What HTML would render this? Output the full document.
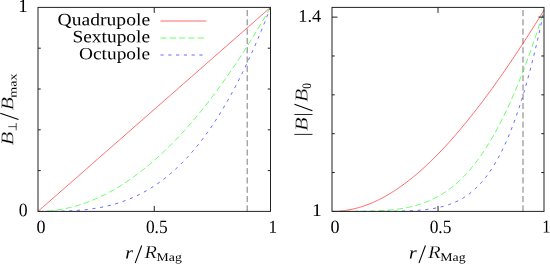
<!DOCTYPE html>
<html><head><meta charset="utf-8"><title>Multipole field profiles</title>
<style>
html,body{margin:0;padding:0;background:#fff;}
body{width:550px;height:264px;overflow:hidden;font-family:"Liberation Serif",serif;}
svg{display:block;will-change:transform;}
</style></head><body>
<svg width="550" height="264" viewBox="0 0 550 264"><g stroke-linecap="butt"><line x1="247.18" y1="211.40" x2="247.18" y2="7.40" stroke="#000" stroke-width="0.52" stroke-dasharray="6.1 3.2"/><polyline points="38.00,211.40 39.16,210.38 40.33,209.36 41.49,208.34 42.65,207.32 43.81,206.30 44.98,205.28 46.14,204.26 47.30,203.24 48.46,202.22 49.62,201.20 50.79,200.18 51.95,199.16 53.11,198.14 54.28,197.12 55.44,196.10 56.60,195.08 57.76,194.06 58.92,193.04 60.09,192.02 61.25,191.00 62.41,189.98 63.58,188.96 64.74,187.94 65.90,186.92 67.06,185.90 68.22,184.88 69.39,183.86 70.55,182.84 71.71,181.82 72.88,180.80 74.04,179.78 75.20,178.76 76.36,177.74 77.53,176.72 78.69,175.70 79.85,174.68 81.01,173.66 82.17,172.64 83.34,171.62 84.50,170.60 85.66,169.58 86.82,168.56 87.99,167.54 89.15,166.52 90.31,165.50 91.47,164.48 92.64,163.46 93.80,162.44 94.96,161.42 96.12,160.40 97.29,159.38 98.45,158.36 99.61,157.34 100.78,156.32 101.94,155.30 103.10,154.28 104.26,153.26 105.42,152.24 106.59,151.22 107.75,150.20 108.91,149.18 110.08,148.16 111.24,147.14 112.40,146.12 113.56,145.10 114.73,144.08 115.89,143.06 117.05,142.04 118.21,141.02 119.38,140.00 120.54,138.98 121.70,137.96 122.86,136.94 124.03,135.92 125.19,134.90 126.35,133.88 127.51,132.86 128.68,131.84 129.84,130.82 131.00,129.80 132.16,128.78 133.32,127.76 134.49,126.74 135.65,125.72 136.81,124.70 137.97,123.68 139.14,122.66 140.30,121.64 141.46,120.62 142.62,119.60 143.79,118.58 144.95,117.56 146.11,116.54 147.27,115.52 148.44,114.50 149.60,113.48 150.76,112.46 151.93,111.44 153.09,110.42 154.25,109.40 155.41,108.38 156.57,107.36 157.74,106.34 158.90,105.32 160.06,104.30 161.23,103.28 162.39,102.26 163.55,101.24 164.71,100.22 165.88,99.20 167.04,98.18 168.20,97.16 169.36,96.14 170.52,95.12 171.69,94.10 172.85,93.08 174.01,92.06 175.17,91.04 176.34,90.02 177.50,89.00 178.66,87.98 179.82,86.96 180.99,85.94 182.15,84.92 183.31,83.90 184.47,82.88 185.64,81.86 186.80,80.84 187.96,79.82 189.12,78.80 190.29,77.78 191.45,76.76 192.61,75.74 193.78,74.72 194.94,73.70 196.10,72.68 197.26,71.66 198.42,70.64 199.59,69.62 200.75,68.60 201.91,67.58 203.07,66.56 204.24,65.54 205.40,64.52 206.56,63.50 207.72,62.48 208.89,61.46 210.05,60.44 211.21,59.42 212.38,58.40 213.54,57.38 214.70,56.36 215.86,55.34 217.03,54.32 218.19,53.30 219.35,52.28 220.51,51.26 221.68,50.24 222.84,49.22 224.00,48.20 225.16,47.18 226.33,46.16 227.49,45.14 228.65,44.12 229.81,43.10 230.97,42.08 232.14,41.06 233.30,40.04 234.46,39.02 235.62,38.00 236.79,36.98 237.95,35.96 239.11,34.94 240.28,33.92 241.44,32.90 242.60,31.88 243.76,30.86 244.93,29.84 246.09,28.82 247.25,27.80 248.41,26.78 249.58,25.76 250.74,24.74 251.90,23.72 253.06,22.70 254.23,21.68 255.39,20.66 256.55,19.64 257.71,18.62 258.88,17.60 260.04,16.58 261.20,15.56 262.36,14.54 263.52,13.52 264.69,12.50 265.85,11.48 267.01,10.46 268.18,9.44 269.34,8.42 270.50,7.40" fill="none" stroke="#ff0000" stroke-width="0.60"/><polyline points="38.00,211.40 39.16,211.39 40.33,211.38 41.49,211.35 42.65,211.32 43.81,211.27 44.98,211.22 46.14,211.15 47.30,211.07 48.46,210.99 49.62,210.89 50.79,210.78 51.95,210.67 53.11,210.54 54.28,210.40 55.44,210.25 56.60,210.09 57.76,209.93 58.92,209.75 60.09,209.56 61.25,209.36 62.41,209.15 63.58,208.93 64.74,208.70 65.90,208.46 67.06,208.21 68.22,207.95 69.39,207.68 70.55,207.40 71.71,207.11 72.88,206.81 74.04,206.50 75.20,206.18 76.36,205.85 77.53,205.50 78.69,205.15 79.85,204.79 81.01,204.42 82.17,204.04 83.34,203.64 84.50,203.24 85.66,202.83 86.82,202.40 87.99,201.97 89.15,201.53 90.31,201.07 91.47,200.61 92.64,200.13 93.80,199.65 94.96,199.15 96.12,198.65 97.29,198.13 98.45,197.61 99.61,197.07 100.78,196.53 101.94,195.97 103.10,195.41 104.26,194.83 105.42,194.24 106.59,193.65 107.75,193.04 108.91,192.42 110.08,191.80 111.24,191.16 112.40,190.51 113.56,189.85 114.73,189.18 115.89,188.51 117.05,187.82 118.21,187.12 119.38,186.41 120.54,185.69 121.70,184.96 122.86,184.22 124.03,183.47 125.19,182.71 126.35,181.94 127.51,181.16 128.68,180.37 129.84,179.57 131.00,178.76 132.16,177.94 133.32,177.11 134.49,176.27 135.65,175.41 136.81,174.55 137.97,173.68 139.14,172.80 140.30,171.91 141.46,171.00 142.62,170.09 143.79,169.17 144.95,168.23 146.11,167.29 147.27,166.34 148.44,165.37 149.60,164.40 150.76,163.41 151.93,162.42 153.09,161.41 154.25,160.40 155.41,159.37 156.57,158.34 157.74,157.29 158.90,156.24 160.06,155.17 161.23,154.10 162.39,153.01 163.55,151.91 164.71,150.81 165.88,149.69 167.04,148.56 168.20,147.43 169.36,146.28 170.52,145.12 171.69,143.95 172.85,142.77 174.01,141.59 175.17,140.39 176.34,139.18 177.50,137.96 178.66,136.73 179.82,135.49 180.99,134.24 182.15,132.98 183.31,131.71 184.47,130.43 185.64,129.14 186.80,127.84 187.96,126.53 189.12,125.21 190.29,123.88 191.45,122.54 192.61,121.19 193.78,119.82 194.94,118.45 196.10,117.07 197.26,115.68 198.42,114.28 199.59,112.86 200.75,111.44 201.91,110.01 203.07,108.56 204.24,107.11 205.40,105.65 206.56,104.17 207.72,102.69 208.89,101.19 210.05,99.69 211.21,98.17 212.38,96.65 213.54,95.11 214.70,93.57 215.86,92.01 217.03,90.45 218.19,88.87 219.35,87.29 220.51,85.69 221.68,84.08 222.84,82.47 224.00,80.84 225.16,79.20 226.33,77.56 227.49,75.90 228.65,74.23 229.81,72.55 230.97,70.86 232.14,69.17 233.30,67.46 234.46,65.74 235.62,64.01 236.79,62.27 237.95,60.52 239.11,58.76 240.28,56.99 241.44,55.21 242.60,53.42 243.76,51.62 244.93,49.81 246.09,47.99 247.25,46.16 248.41,44.32 249.58,42.47 250.74,40.61 251.90,38.73 253.06,36.85 254.23,34.96 255.39,33.06 256.55,31.15 257.71,29.22 258.88,27.29 260.04,25.35 261.20,23.39 262.36,21.43 263.52,19.46 264.69,17.47 265.85,15.48 267.01,13.47 268.18,11.46 269.34,9.43 270.50,7.40" fill="none" stroke="#00ff00" stroke-width="0.60" stroke-dasharray="6.1 3.2"/><polyline points="38.00,211.40 39.16,211.40 40.33,211.40 41.49,211.40 42.65,211.40 43.81,211.40 44.98,211.39 46.14,211.39 47.30,211.39 48.46,211.38 49.62,211.37 50.79,211.37 51.95,211.36 53.11,211.34 54.28,211.33 55.44,211.31 56.60,211.30 57.76,211.27 58.92,211.25 60.09,211.23 61.25,211.20 62.41,211.16 63.58,211.13 64.74,211.09 65.90,211.05 67.06,211.00 68.22,210.95 69.39,210.90 70.55,210.84 71.71,210.78 72.88,210.71 74.04,210.64 75.20,210.56 76.36,210.48 77.53,210.40 78.69,210.31 79.85,210.21 81.01,210.11 82.17,210.00 83.34,209.89 84.50,209.77 85.66,209.64 86.82,209.51 87.99,209.37 89.15,209.23 90.31,209.08 91.47,208.92 92.64,208.75 93.80,208.58 94.96,208.40 96.12,208.21 97.29,208.02 98.45,207.81 99.61,207.60 100.78,207.38 101.94,207.16 103.10,206.92 104.26,206.68 105.42,206.42 106.59,206.16 107.75,205.89 108.91,205.61 110.08,205.32 111.24,205.02 112.40,204.72 113.56,204.40 114.73,204.07 115.89,203.73 117.05,203.38 118.21,203.02 119.38,202.65 120.54,202.27 121.70,201.88 122.86,201.48 124.03,201.07 125.19,200.64 126.35,200.21 127.51,199.76 128.68,199.30 129.84,198.83 131.00,198.34 132.16,197.85 133.32,197.34 134.49,196.82 135.65,196.29 136.81,195.74 137.97,195.18 139.14,194.61 140.30,194.02 141.46,193.42 142.62,192.81 143.79,192.18 144.95,191.54 146.11,190.89 147.27,190.22 148.44,189.54 149.60,188.84 150.76,188.13 151.93,187.40 153.09,186.66 154.25,185.90 155.41,185.13 156.57,184.34 157.74,183.54 158.90,182.72 160.06,181.88 161.23,181.03 162.39,180.16 163.55,179.28 164.71,178.38 165.88,177.46 167.04,176.53 168.20,175.57 169.36,174.61 170.52,173.62 171.69,172.62 172.85,171.60 174.01,170.56 175.17,169.50 176.34,168.43 177.50,167.34 178.66,166.23 179.82,165.10 180.99,163.95 182.15,162.78 183.31,161.60 184.47,160.39 185.64,159.17 186.80,157.92 187.96,156.66 189.12,155.38 190.29,154.07 191.45,152.75 192.61,151.41 193.78,150.04 194.94,148.66 196.10,147.26 197.26,145.83 198.42,144.38 199.59,142.92 200.75,141.43 201.91,139.92 203.07,138.39 204.24,136.83 205.40,135.26 206.56,133.66 207.72,132.04 208.89,130.40 210.05,128.73 211.21,127.05 212.38,125.34 213.54,123.60 214.70,121.85 215.86,120.07 217.03,118.27 218.19,116.44 219.35,114.59 220.51,112.72 221.68,110.82 222.84,108.90 224.00,106.95 225.16,104.98 226.33,102.99 227.49,100.97 228.65,98.92 229.81,96.85 230.97,94.76 232.14,92.63 233.30,90.49 234.46,88.32 235.62,86.12 236.79,83.89 237.95,81.64 239.11,79.37 240.28,77.07 241.44,74.74 242.60,72.38 243.76,70.00 244.93,67.59 246.09,65.15 247.25,62.68 248.41,60.19 249.58,57.67 250.74,55.12 251.90,52.55 253.06,49.94 254.23,47.31 255.39,44.65 256.55,41.96 257.71,39.24 258.88,36.50 260.04,33.72 261.20,30.91 262.36,28.08 263.52,25.21 264.69,22.32 265.85,19.40 267.01,16.44 268.18,13.46 269.34,10.44 270.50,7.40" fill="none" stroke="#0000ff" stroke-width="0.60" stroke-dasharray="3.15 4.63"/><line x1="523.00" y1="211.40" x2="523.00" y2="7.40" stroke="#000" stroke-width="0.52" stroke-dasharray="6.1 3.2"/><polyline points="332.00,211.40 333.06,211.39 334.12,211.38 335.18,211.35 336.24,211.30 337.30,211.25 338.36,211.18 339.42,211.10 340.48,211.01 341.54,210.91 342.60,210.79 343.66,210.67 344.72,210.53 345.78,210.38 346.84,210.21 347.90,210.04 348.96,209.85 350.02,209.65 351.08,209.44 352.14,209.21 353.20,208.98 354.26,208.73 355.32,208.47 356.38,208.20 357.44,207.92 358.50,207.62 359.56,207.31 360.62,206.99 361.68,206.66 362.74,206.32 363.80,205.97 364.86,205.60 365.92,205.22 366.98,204.83 368.04,204.43 369.10,204.02 370.16,203.59 371.22,203.16 372.28,202.71 373.34,202.25 374.40,201.78 375.46,201.30 376.52,200.81 377.58,200.30 378.64,199.78 379.70,199.26 380.76,198.72 381.82,198.17 382.88,197.61 383.94,197.03 385.00,196.45 386.06,195.86 387.12,195.25 388.18,194.63 389.24,194.01 390.30,193.37 391.36,192.72 392.42,192.06 393.48,191.39 394.54,190.71 395.60,190.01 396.66,189.31 397.72,188.60 398.78,187.87 399.84,187.14 400.90,186.39 401.96,185.64 403.02,184.87 404.08,184.09 405.14,183.31 406.20,182.51 407.26,181.70 408.32,180.88 409.38,180.06 410.44,179.22 411.50,178.37 412.56,177.51 413.62,176.65 414.68,175.77 415.74,174.88 416.80,173.98 417.86,173.08 418.92,172.16 419.98,171.23 421.04,170.30 422.10,169.35 423.16,168.40 424.22,167.44 425.28,166.46 426.34,165.48 427.40,164.49 428.46,163.49 429.52,162.48 430.58,161.46 431.64,160.43 432.70,159.39 433.76,158.34 434.82,157.29 435.88,156.22 436.94,155.15 438.00,154.07 439.06,152.98 440.12,151.88 441.18,150.77 442.24,149.66 443.30,148.53 444.36,147.40 445.42,146.26 446.48,145.11 447.54,143.95 448.60,142.78 449.66,141.61 450.72,140.43 451.78,139.23 452.84,138.04 453.90,136.83 454.96,135.62 456.02,134.39 457.08,133.16 458.14,131.92 459.20,130.68 460.26,129.43 461.32,128.16 462.38,126.90 463.44,125.62 464.50,124.34 465.56,123.05 466.62,121.75 467.68,120.44 468.74,119.13 469.80,117.81 470.86,116.48 471.92,115.15 472.98,113.81 474.04,112.46 475.10,111.10 476.16,109.74 477.22,108.37 478.28,107.00 479.34,105.61 480.40,104.22 481.46,102.83 482.52,101.43 483.58,100.02 484.64,98.60 485.70,97.18 486.76,95.75 487.82,94.31 488.88,92.87 489.94,91.43 491.00,89.97 492.06,88.51 493.12,87.04 494.18,85.57 495.24,84.09 496.30,82.61 497.36,81.12 498.42,79.62 499.48,78.12 500.54,76.61 501.60,75.10 502.66,73.58 503.72,72.05 504.78,70.52 505.84,68.98 506.90,67.44 507.96,65.89 509.02,64.34 510.08,62.78 511.14,61.21 512.20,59.64 513.26,58.07 514.32,56.49 515.38,54.90 516.44,53.31 517.50,51.71 518.56,50.11 519.62,48.50 520.68,46.89 521.74,45.27 522.80,43.65 523.86,42.03 524.92,40.39 525.98,38.76 527.04,37.11 528.10,35.47 529.16,33.82 530.22,32.16 531.28,30.50 532.34,28.83 533.40,27.16 534.46,25.49 535.52,23.81 536.58,22.12 537.64,20.44 538.70,18.74 539.76,17.04 540.82,15.34 541.88,13.64 542.94,11.93 544.00,10.21" fill="none" stroke="#ff0000" stroke-width="0.60"/><polyline points="332.00,211.40 333.06,211.40 334.12,211.40 335.18,211.40 336.24,211.40 337.30,211.40 338.36,211.40 339.42,211.40 340.48,211.40 341.54,211.40 342.60,211.40 343.66,211.40 344.72,211.40 345.78,211.40 346.84,211.39 347.90,211.39 348.96,211.39 350.02,211.39 351.08,211.38 352.14,211.38 353.20,211.38 354.26,211.37 355.32,211.36 356.38,211.36 357.44,211.35 358.50,211.34 359.56,211.33 360.62,211.32 361.68,211.31 362.74,211.29 363.80,211.28 364.86,211.26 365.92,211.24 366.98,211.22 368.04,211.20 369.10,211.17 370.16,211.15 371.22,211.12 372.28,211.08 373.34,211.05 374.40,211.01 375.46,210.97 376.52,210.93 377.58,210.88 378.64,210.83 379.70,210.78 380.76,210.72 381.82,210.66 382.88,210.59 383.94,210.53 385.00,210.45 386.06,210.37 387.12,210.29 388.18,210.20 389.24,210.11 390.30,210.01 391.36,209.91 392.42,209.80 393.48,209.69 394.54,209.56 395.60,209.44 396.66,209.30 397.72,209.16 398.78,209.01 399.84,208.86 400.90,208.70 401.96,208.53 403.02,208.35 404.08,208.17 405.14,207.97 406.20,207.77 407.26,207.56 408.32,207.34 409.38,207.11 410.44,206.87 411.50,206.62 412.56,206.36 413.62,206.09 414.68,205.81 415.74,205.52 416.80,205.22 417.86,204.91 418.92,204.59 419.98,204.25 421.04,203.90 422.10,203.54 423.16,203.17 424.22,202.78 425.28,202.38 426.34,201.97 427.40,201.54 428.46,201.10 429.52,200.65 430.58,200.18 431.64,199.69 432.70,199.19 433.76,198.67 434.82,198.14 435.88,197.60 436.94,197.03 438.00,196.45 439.06,195.85 440.12,195.24 441.18,194.61 442.24,193.96 443.30,193.29 444.36,192.60 445.42,191.90 446.48,191.17 447.54,190.43 448.60,189.66 449.66,188.88 450.72,188.08 451.78,187.25 452.84,186.41 453.90,185.54 454.96,184.65 456.02,183.74 457.08,182.81 458.14,181.86 459.20,180.88 460.26,179.89 461.32,178.86 462.38,177.82 463.44,176.75 464.50,175.66 465.56,174.54 466.62,173.40 467.68,172.23 468.74,171.04 469.80,169.83 470.86,168.59 471.92,167.32 472.98,166.03 474.04,164.71 475.10,163.36 476.16,161.99 477.22,160.59 478.28,159.16 479.34,157.71 480.40,156.22 481.46,154.71 482.52,153.18 483.58,151.61 484.64,150.01 485.70,148.39 486.76,146.74 487.82,145.05 488.88,143.34 489.94,141.60 491.00,139.83 492.06,138.03 493.12,136.20 494.18,134.34 495.24,132.45 496.30,130.52 497.36,128.57 498.42,126.58 499.48,124.57 500.54,122.52 501.60,120.44 502.66,118.33 503.72,116.19 504.78,114.02 505.84,111.81 506.90,109.57 507.96,107.30 509.02,105.00 510.08,102.66 511.14,100.29 512.20,97.89 513.26,95.46 514.32,92.99 515.38,90.49 516.44,87.95 517.50,85.39 518.56,82.79 519.62,80.15 520.68,77.49 521.74,74.79 522.80,72.05 523.86,69.28 524.92,66.48 525.98,63.64 527.04,60.77 528.10,57.87 529.16,54.93 530.22,51.96 531.28,48.95 532.34,45.91 533.40,42.84 534.46,39.73 535.52,36.59 536.58,33.41 537.64,30.20 538.70,26.95 539.76,23.67 540.82,20.36 541.88,17.01 542.94,13.63 544.00,10.21" fill="none" stroke="#00ff00" stroke-width="0.60" stroke-dasharray="6.1 3.2"/><polyline points="332.00,211.40 333.06,211.40 334.12,211.40 335.18,211.40 336.24,211.40 337.30,211.40 338.36,211.40 339.42,211.40 340.48,211.40 341.54,211.40 342.60,211.40 343.66,211.40 344.72,211.40 345.78,211.40 346.84,211.40 347.90,211.40 348.96,211.40 350.02,211.40 351.08,211.40 352.14,211.40 353.20,211.40 354.26,211.40 355.32,211.40 356.38,211.40 357.44,211.40 358.50,211.40 359.56,211.40 360.62,211.40 361.68,211.40 362.74,211.40 363.80,211.40 364.86,211.40 365.92,211.40 366.98,211.40 368.04,211.39 369.10,211.39 370.16,211.39 371.22,211.39 372.28,211.39 373.34,211.39 374.40,211.38 375.46,211.38 376.52,211.38 377.58,211.38 378.64,211.37 379.70,211.37 380.76,211.36 381.82,211.36 382.88,211.35 383.94,211.35 385.00,211.34 386.06,211.33 387.12,211.32 388.18,211.32 389.24,211.31 390.30,211.29 391.36,211.28 392.42,211.27 393.48,211.26 394.54,211.24 395.60,211.22 396.66,211.20 397.72,211.18 398.78,211.16 399.84,211.14 400.90,211.11 401.96,211.09 403.02,211.06 404.08,211.02 405.14,210.99 406.20,210.95 407.26,210.91 408.32,210.87 409.38,210.83 410.44,210.78 411.50,210.73 412.56,210.67 413.62,210.61 414.68,210.55 415.74,210.48 416.80,210.41 417.86,210.33 418.92,210.25 419.98,210.16 421.04,210.07 422.10,209.97 423.16,209.87 424.22,209.76 425.28,209.64 426.34,209.52 427.40,209.39 428.46,209.25 429.52,209.10 430.58,208.95 431.64,208.79 432.70,208.62 433.76,208.44 434.82,208.25 435.88,208.05 436.94,207.84 438.00,207.62 439.06,207.39 440.12,207.15 441.18,206.89 442.24,206.62 443.30,206.34 444.36,206.05 445.42,205.74 446.48,205.42 447.54,205.08 448.60,204.72 449.66,204.35 450.72,203.97 451.78,203.56 452.84,203.14 453.90,202.70 454.96,202.24 456.02,201.76 457.08,201.26 458.14,200.74 459.20,200.20 460.26,199.63 461.32,199.05 462.38,198.43 463.44,197.80 464.50,197.13 465.56,196.45 466.62,195.73 467.68,194.99 468.74,194.22 469.80,193.42 470.86,192.59 471.92,191.73 472.98,190.83 474.04,189.91 475.10,188.95 476.16,187.96 477.22,186.93 478.28,185.86 479.34,184.76 480.40,183.62 481.46,182.44 482.52,181.23 483.58,179.97 484.64,178.67 485.70,177.33 486.76,175.94 487.82,174.51 488.88,173.04 489.94,171.51 491.00,169.95 492.06,168.33 493.12,166.66 494.18,164.95 495.24,163.18 496.30,161.36 497.36,159.48 498.42,157.56 499.48,155.57 500.54,153.53 501.60,151.44 502.66,149.28 503.72,147.07 504.78,144.80 505.84,142.46 506.90,140.07 507.96,137.61 509.02,135.08 510.08,132.49 511.14,129.84 512.20,127.12 513.26,124.33 514.32,121.47 515.38,118.55 516.44,115.55 517.50,112.48 518.56,109.34 519.62,106.13 520.68,102.84 521.74,99.47 522.80,96.04 523.86,92.52 524.92,88.93 525.98,85.26 527.04,81.51 528.10,77.68 529.16,73.77 530.22,69.78 531.28,65.71 532.34,61.56 533.40,57.32 534.46,53.00 535.52,48.59 536.58,44.10 537.64,39.52 538.70,34.85 539.76,30.10 540.82,25.26 541.88,20.33 542.94,15.32 544.00,10.21" fill="none" stroke="#0000ff" stroke-width="0.60" stroke-dasharray="3.15 4.63"/><line x1="160.50" y1="21.00" x2="206.30" y2="21.00" stroke="#ff0000" stroke-width="0.60"/><line x1="160.50" y1="38.00" x2="206.30" y2="38.00" stroke="#00ff00" stroke-width="0.60" stroke-dasharray="6.1 3.2"/><line x1="160.50" y1="55.00" x2="206.30" y2="55.00" stroke="#0000ff" stroke-width="0.60" stroke-dasharray="3.15 4.63"/></g><path d="M154.25 211.40L154.25 205.90 M154.25 7.40L154.25 12.90 M38.00 170.60L40.75 170.60 M270.50 170.60L267.75 170.60 M38.00 129.80L40.75 129.80 M270.50 129.80L267.75 129.80 M38.00 89.00L40.75 89.00 M270.50 89.00L267.75 89.00 M38.00 48.20L40.75 48.20 M270.50 48.20L267.75 48.20" stroke="#222" stroke-width="1.00" fill="none"/><rect x="38.00" y="7.40" width="232.50" height="204.00" fill="none" stroke="#222" stroke-width="1.00"/><path d="M438.00 211.40L438.00 205.90 M438.00 7.40L438.00 12.90 M332.00 17.11L337.50 17.11 M544.00 17.11L538.50 17.11 M332.00 172.54L334.75 172.54 M544.00 172.54L541.25 172.54 M332.00 133.69L334.75 133.69 M544.00 133.69L541.25 133.69 M332.00 94.83L334.75 94.83 M544.00 94.83L541.25 94.83 M332.00 55.97L334.75 55.97 M544.00 55.97L541.25 55.97" stroke="#222" stroke-width="1.00" fill="none"/><rect x="332.00" y="7.40" width="212.00" height="204.00" fill="none" stroke="#222" stroke-width="1.00"/><line x1="135.20" y1="263.0" x2="141.70" y2="245.5" stroke="#000" stroke-width="1.05"/><line x1="418.95" y1="263.0" x2="425.45" y2="245.5" stroke="#000" stroke-width="1.05"/><path d="M16.2 123.0 L16.2 130.3 M8.3 126.65 L16.2 126.65" stroke="#000" stroke-width="0.7" fill="none"/><line x1="18.5" y1="119.5" x2="0.3" y2="113.3" stroke="#000" stroke-width="1.05"/><path d="M294.4 134.4 L312.5 134.4 M294.4 114.5 L312.5 114.5" stroke="#000" stroke-width="0.85" fill="none"/><line x1="312.4" y1="110.7" x2="294.5" y2="104.2" stroke="#000" stroke-width="1.05"/><g font-family='"Liberation Serif", serif' fill="#000"><text transform="translate(57.615,25.300) rotate(0.03) scale(1.1277,1)" font-size="17.391">Quadrupole</text><text transform="translate(72.480,42.300) rotate(0.03) scale(1.1229,1)" font-size="17.270">Sextupole</text><text transform="translate(78.992,59.300) rotate(0.03) scale(1.1341,1)" font-size="17.094">Octupole</text><text transform="translate(18.157,12.066) rotate(0.03) scale(1.0281,1)" font-size="18.391">1</text><text transform="translate(18.784,216.281) rotate(0.03) scale(0.9223,1)" font-size="19.208">0</text><text transform="translate(298.355,21.838) rotate(0.03) scale(1.0351,1)" font-size="17.639">1.4</text><text transform="translate(311.985,216.006) rotate(0.03) scale(1.0837,1)" font-size="17.979">1</text><text transform="translate(36.472,232.986) rotate(0.03) scale(0.9569,1)" font-size="18.865">0</text><text transform="translate(145.894,232.968) rotate(0.03) scale(0.9218,1)" font-size="18.842">0.5</text><text transform="translate(268.618,232.626) rotate(0.03) scale(0.9502,1)" font-size="18.141">1</text><text transform="translate(330.472,232.986) rotate(0.03) scale(0.9569,1)" font-size="18.865">0</text><text transform="translate(429.644,233.053) rotate(0.03) scale(0.9251,1)" font-size="18.805">0.5</text><text transform="translate(542.292,232.558) rotate(0.03) scale(0.9077,1)" font-size="18.027">1</text><text transform="translate(125.261,258.400) rotate(0.03) scale(1.1300,1)" font-size="17.447" font-style="italic">r</text><text transform="translate(144.500,257.950) rotate(0.03) scale(1.1017,1)" font-size="18.308" font-style="italic" stroke="#fff" stroke-width="0.22">R</text><text transform="translate(156.584,261.100) rotate(0.03) scale(1.1577,1)" font-size="11.888">Mag</text><text transform="translate(409.011,258.400) rotate(0.03) scale(1.1300,1)" font-size="17.447" font-style="italic">r</text><text transform="translate(428.037,257.895) rotate(0.03) scale(1.1478,1)" font-size="18.095" font-style="italic" stroke="#fff" stroke-width="0.22">R</text><text transform="translate(440.327,261.100) rotate(0.03) scale(1.1734,1)" font-size="11.770">Mag</text><g transform="translate(0.00,150.00) rotate(-89.97)"><text transform="translate(4.881,13.330) scale(1.2432,1)" font-size="17.840" font-style="italic" stroke="#fff" stroke-width="0.22">B</text><text transform="translate(39.718,13.339) scale(1.2057,1)" font-size="17.854" font-style="italic" stroke="#fff" stroke-width="0.22">B</text><text transform="translate(52.167,16.577) scale(1.2963,1)" font-size="10.892">max</text></g><g transform="translate(300.00,150.00) rotate(-89.97)"><text transform="translate(19.047,7.498) scale(1.2317,1)" font-size="18.170" font-style="italic" stroke="#fff" stroke-width="0.22">B</text><text transform="translate(47.978,7.553) scale(1.1981,1)" font-size="18.212" font-style="italic" stroke="#fff" stroke-width="0.22">B</text><text transform="translate(61.246,10.962) scale(0.8849,1)" font-size="12.836">0</text></g></g></svg>
</body></html>
